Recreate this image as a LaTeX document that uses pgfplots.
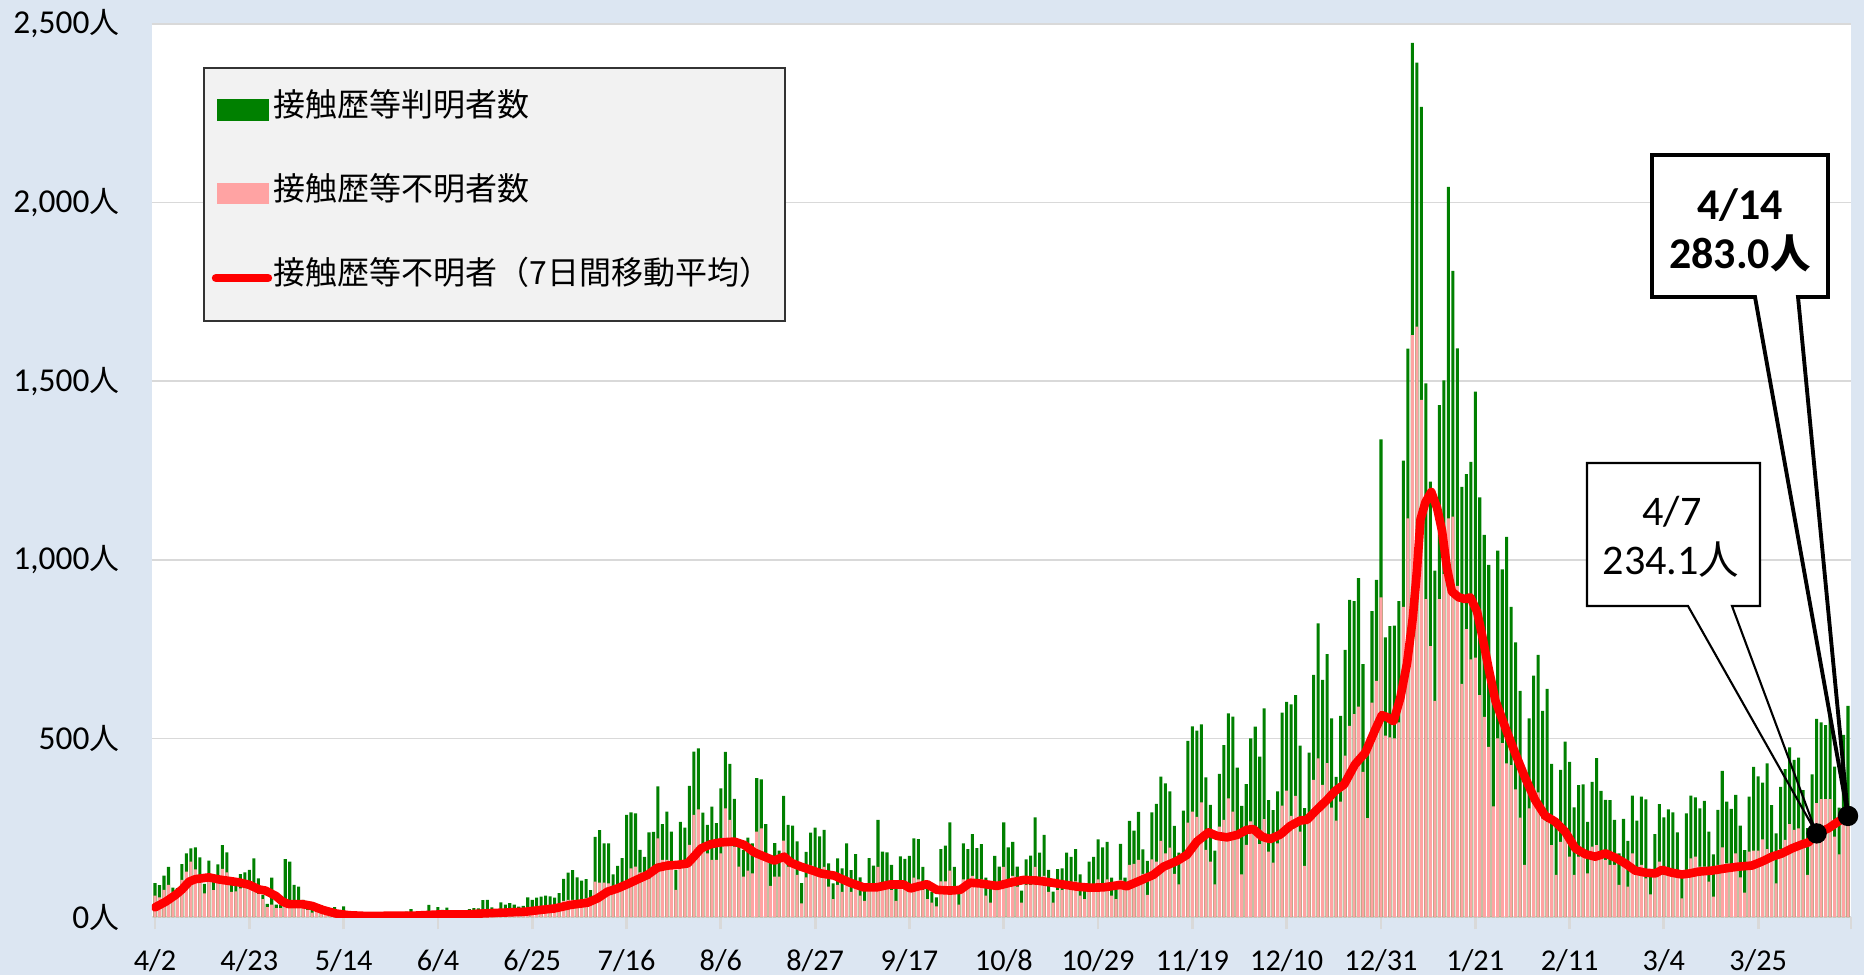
\documentclass[border=0pt]{standalone}
\usepackage{fontspec}
\setmainfont{Carlito}
\newfontfamily\jp{Noto Sans CJK JP}
\usepackage{pgfplots}
\usepackage{pgfplotstable}
\pgfplotsset{compat=1.18}
\definecolor{bgblue}{RGB}{220,230,242}
\definecolor{grn}{RGB}{0,128,0}
\definecolor{pnk}{RGB}{255,163,163}
\definecolor{gridgray}{RGB}{217,217,217}
\definecolor{legfill}{RGB}{242,242,242}
\newcommand\nin{{\jp\fontsize{8.5pt}{10pt}\selectfont 人}}

\pgfplotstableread{
d t u
0 95 60
1 89 55
2 116 76
3 140 90
4 82 70
5 81 60
6 148 104
7 178 127
8 192 155
9 195 133
10 167 110
11 93 66
12 158 110
13 110 75
14 147 100
15 201 135
16 181 125
17 90 70
18 92 72
19 120 80
20 125 82
21 132 85
22 164 90
23 108 65
24 62 50
25 37 28
26 110 35
27 35 25
28 35 25
29 162 50
30 155 45
31 90 40
32 85 35
33 48 25
34 32 20
35 20 12
36 30 15
37 33 14
38 22 10
39 15 7
40 28 10
41 10 5
42 30 8
43 9 4
44 14 5
45 5 2
46 10 3
47 5 2
48 5 2
49 11 4
50 3 1
51 2 1
52 14 4
53 8 3
54 10 4
55 11 4
56 15 5
57 22 7
58 14 5
59 5 3
60 13 5
61 34 8
62 12 6
63 28 8
64 20 8
65 26 9
66 14 7
67 13 7
68 12 6
69 18 8
70 22 9
71 25 10
72 24 10
73 47 12
74 48 12
75 27 11
76 16 10
77 41 14
78 35 15
79 39 16
80 35 15
81 29 14
82 31 15
83 55 20
84 48 22
85 54 24
86 57 26
87 60 28
88 58 28
89 54 27
90 67 32
91 107 45
92 124 48
93 131 48
94 111 43
95 102 48
96 106 52
97 75 50
98 224 99
99 243 96
100 206 96
101 206 94
102 119 85
103 143 80
104 165 90
105 286 99
106 293 136
107 290 141
108 188 125
109 168 110
110 237 108
111 238 118
112 366 220
113 260 160
114 295 160
115 239 141
116 131 76
117 266 141
118 250 141
119 367 202
120 463 286
121 472 301
122 292 188
123 258 178
124 309 160
125 263 160
126 360 178
127 462 304
128 429 272
129 331 197
130 197 141
131 188 113
132 222 130
133 206 122
134 389 239
135 385 248
136 260 160
137 161 87
138 207 113
139 186 113
140 339 214
141 258 141
142 256 141
143 212 118
144 95 38
145 182 111
146 236 144
147 250 136
148 226 119
149 244 140
150 150 85
151 94 50
152 164 90
153 136 70
154 206 105
155 131 70
156 176 100
157 111 60
158 80 45
159 165 95
160 144 75
161 272 140
162 183 95
163 181 90
164 146 75
165 80 45
166 170 90
167 163 85
168 171 85
169 220 110
170 218 105
171 140 75
172 90 50
173 70 40
174 55 30
175 190 100
176 200 100
177 265 130
178 140 70
179 65 35
180 206 105
181 190 95
182 232 115
183 193 100
184 204 105
185 110 60
186 78 40
187 171 90
188 141 80
189 265 140
190 195 105
191 210 115
192 141 85
193 74 40
194 161 90
195 172 90
196 279 140
197 180 95
198 230 115
199 132 70
200 71 40
201 134 75
202 136 75
203 180 95
204 168 90
205 190 100
206 119 60
207 94 50
208 155 80
209 168 85
210 217 105
211 195 95
212 210 105
213 110 60
214 90 50
215 205 104
216 110 80
217 269 146
218 242 149
219 294 160
220 189 121
221 157 62
222 293 161
223 317 155
224 393 213
225 374 178
226 352 194
227 255 121
228 180 91
229 298 160
230 493 264
231 534 295
232 522 280
233 539 321
234 391 188
235 314 155
236 186 91
237 401 253
238 481 272
239 570 332
240 561 295
241 418 225
242 311 119
243 372 202
244 500 268
245 533 239
246 449 204
247 584 274
248 327 183
249 299 152
250 352 206
251 572 312
252 602 354
253 595 283
254 621 339
255 480 239
256 305 143
257 460 267
258 678 384
259 822 444
260 664 370
261 736 431
262 556 306
263 392 270
264 563 323
265 748 452
266 888 535
267 884 568
268 949 589
269 708 406
270 481 277
271 856 600
272 944 661
273 1337 895
274 783 508
275 814 503
276 816 500
277 884 545
278 1278 868
279 1591 1116
280 2447 1629
281 2392 1653
282 2268 1448
283 1494 890
284 1219 758
285 970 605
286 1433 890
287 1502 960
288 2044 1116
289 1809 1121
290 1592 927
291 1204 653
292 1240 806
293 1274 721
294 1471 726
295 1175 621
296 1070 560
297 986 476
298 618 310
299 1026 500
300 973 487
301 1064 430
302 868 425
303 769 357
304 633 278
305 393 146
306 556 304
307 676 351
308 734 349
309 577 276
310 639 266
311 429 201
312 276 118
313 412 210
314 491 220
315 434 169
316 307 118
317 369 169
318 371 178
319 266 122
320 378 197
321 445 201
322 353 169
323 328 160
324 327 146
325 272 146
326 178 90
327 275 155
328 213 85
329 340 178
330 270 127
331 337 146
332 329 108
333 121 63
334 232 127
335 316 155
336 279 118
337 301 115
338 293 113
339 237 113
340 116 52
341 290 132
342 340 164
343 335 169
344 304 141
345 325 141
346 239 99
347 175 57
348 300 146
349 409 195
350 323 150
351 303 146
352 342 178
353 256 111
354 187 68
355 337 183
356 420 186
357 394 186
358 376 217
359 430 190
360 313 176
361 234 94
362 364 189
363 414 216
364 475 260
365 440 244
366 446 248
367 355 216
368 249 118
369 399 234
370 555 319
371 545 330
372 537 330
373 570 330
374 421 225
375 306 175
376 510 290
377 591 301
}\daily

\pgfplotstableread{
d m
0 27
2.4 43
4.6 62
6 77
7.6 99
9 106
12 111
14.3 105
16.5 101
18.7 97
21 90
23.2 77
24.6 74
26.9 59
28.4 43
29.8 36
32.8 36
35 31
37.3 20
40.2 10
43.2 5
47 3
58 4
63 7
69 7
73 10
79 13
82.6 15
86 20
89 24
92.6 34
96.3 40
98.5 52
100.8 71
103 80
105.2 92
107.4 105
109.7 118
111.9 138
114.1 144
116.4 146
118.6 150
120 169
121.6 192
123.8 204
126 209
129 211
131.2 202
133.4 181
135.7 169
137.9 158
140.1 169
141.6 152
143.8 141
146 132
148.3 122
151.2 116
154.8 96
157.8 83
160.7 83
163.7 91
166.7 91
168.2 80
170.4 87
171.9 92
174.1 76
177.1 74
179.3 76
181.5 96
183.7 94
187.5 87
190.4 96
193.5 104
196.4 102
199.3 97
202.3 91
205.3 85
208.2 82
211.2 83
213.4 87
215 90
216.4 86
219.4 102
222.3 118
224.6 141
227.6 157
229.8 174
232 211
234.6 237
236.5 227
238.7 223
241 230
243.1 244
244.6 246
246.5 225
248.3 218
250.6 231
252.8 255
255 270
256.5 272
258.7 300
261 328
262.8 353
264.8 371
267.2 427
269.5 460
271.7 524
273.2 565
274.3 560
275.8 548
277.3 613
278.8 710
280.1 839
281 968
281.8 1113
282.9 1161
284.2 1190
285.5 1145
286.6 1081
287.7 976
288.8 911
290.3 895
291.8 890
292.9 895
294.4 855
295.5 790
297 694
298.5 605
300.7 530
302.9 458
305 393
307.3 328
309.6 283
311.8 267
314 239
316.3 192
318.5 176
320.7 169
323 178
325.2 166
327.4 150
329.6 130
331.9 124
334.1 122
335.6 132
337.8 124
340 119
341.8 122
343.7 127
346.7 130
349.7 136
352.6 141
355.6 144
357.8 155
360.1 169
362.3 178
364.5 192
366.7 203
368.2 209
370 234.1
372.6 248
374.8 267
377 283
}\mavg

\begin{document}
\begin{tikzpicture}
\useasboundingbox (0,0) rectangle (186.4mm,97.5mm);
\fill[bgblue] (0,0) rectangle (186.4mm,97.5mm);
\begin{axis}[
  at={(15.2mm,5.8mm)}, anchor=south west,
  scale only axis, width=169.9mm, height=89.3mm,
  xmin=-0.67, xmax=377.67, ymin=0, ymax=2500,
  axis background/.style={fill=white},
  axis line style={draw=none},
  ymajorgrids, grid style={draw=gridgray, line width=0.5pt},
  ytick={0,500,1000,1500,2000,2500},
  yticklabels={0\nin,500\nin,{1,000\nin},{1,500\nin},{2,000\nin},{2,500\nin}},
  xtick={0,21,...,357},
  xticklabels={4/2,4/23,5/14,6/4,6/25,7/16,8/6,8/27,9/17,10/8,10/29,11/19,12/10,12/31,1/21,2/11,3/4,3/25},
  extra x ticks={377.67}, extra x tick labels={},
  tick pos=left, tick align=outside, major tick length=1.2mm,
  xtick style={draw=gridgray, line width=0.8pt},
  extra x tick style={xtick style={draw=gridgray, line width=0.8pt}},
  ytick style={draw=none},
  xticklabel style={font=\fontsize{8.6pt}{10pt}\selectfont, anchor=north, inner sep=0pt, yshift=-2mm},
  yticklabel style={font=\fontsize{9.5pt}{11pt}\selectfont, anchor=east, inner sep=0pt, xshift=-2mm},
]
\addplot[ybar, bar width=0.68, bar shift=0pt, fill=grn, draw=none] table[x=d,y=t]{\daily};
\addplot[ybar, bar width=0.68, bar shift=0pt, fill=pnk, draw=none] table[x=d,y=u]{\daily};
\addplot[red, line width=2.45pt, line join=round, line cap=round, no markers] table[x=d,y=m]{\mavg};
% callout 4/7
\fill[white] (axis cs:318.88,870.7) rectangle (axis cs:357.41,1271.0);
\draw[black, line width=0.6pt] (axis cs:341.37,870.7) -- (axis cs:318.88,870.7) -- (axis cs:318.88,1271.0) -- (axis cs:357.41,1271.0) -- (axis cs:357.41,870.7) -- (axis cs:351.17,870.7) -- (axis cs:370,234.1) -- cycle;
\node[font=\fontsize{12pt}{14pt}\selectfont, inner sep=0pt] at (axis cs:337.81,1133.8) {4/7};
\node[font=\fontsize{12pt}{14pt}\selectfont, inner sep=0pt] at (axis cs:337.59,999.5) {234.1{\jp\fontsize{11.5pt}{13pt}\selectfont 人}};
% callout 4/14
\fill[white] (axis cs:333.36,1735.8) rectangle (axis cs:372.55,2133.3);
\draw[black, line width=1.1pt, line join=miter] (axis cs:356.29,1735.8) -- (axis cs:333.36,1735.8) -- (axis cs:333.36,2133.3) -- (axis cs:372.55,2133.3) -- (axis cs:372.55,1735.8) -- (axis cs:365.87,1735.8) -- (axis cs:377,283) -- cycle;
\node[font=\bfseries\fontsize{12.5pt}{14pt}\selectfont, inner sep=0pt] at (axis cs:352.95,1993.3) {4/14};
\node[font=\bfseries\fontsize{12.5pt}{14pt}\selectfont, inner sep=0pt] at (axis cs:352.95,1858.9) {283.0{\jp\bfseries\fontsize{11.5pt}{13pt}\selectfont 人}};
\addplot[only marks, mark=*, mark size=0.95mm, black] coordinates {(370,234.1) (377,283)};
\end{axis}
\begin{scope}[x=0.1mm,y=0.1mm]
\draw[fill=legfill, draw=black!80, line width=0.5pt] (204,654) rectangle (785,907);
\fill[grn] (217,854) rectangle (269,876);
\fill[pnk] (217,771) rectangle (269,792);
\draw[red, line width=2.4pt, line cap=round] (216,697) -- (268,697);
\node[anchor=west, inner sep=0pt, font=\jp\fontsize{9.1pt}{11pt}\selectfont] at (273,871) {接触歴等判明者数};
\node[anchor=west, inner sep=0pt, font=\jp\fontsize{9.1pt}{11pt}\selectfont] at (273,787) {接触歴等不明者数};
\node[anchor=west, inner sep=0pt, font=\jp\fontsize{9.1pt}{11pt}\selectfont] at (273,703) {接触歴等不明者（7日間移動平均）};
\end{scope}
\end{tikzpicture}
\end{document}
